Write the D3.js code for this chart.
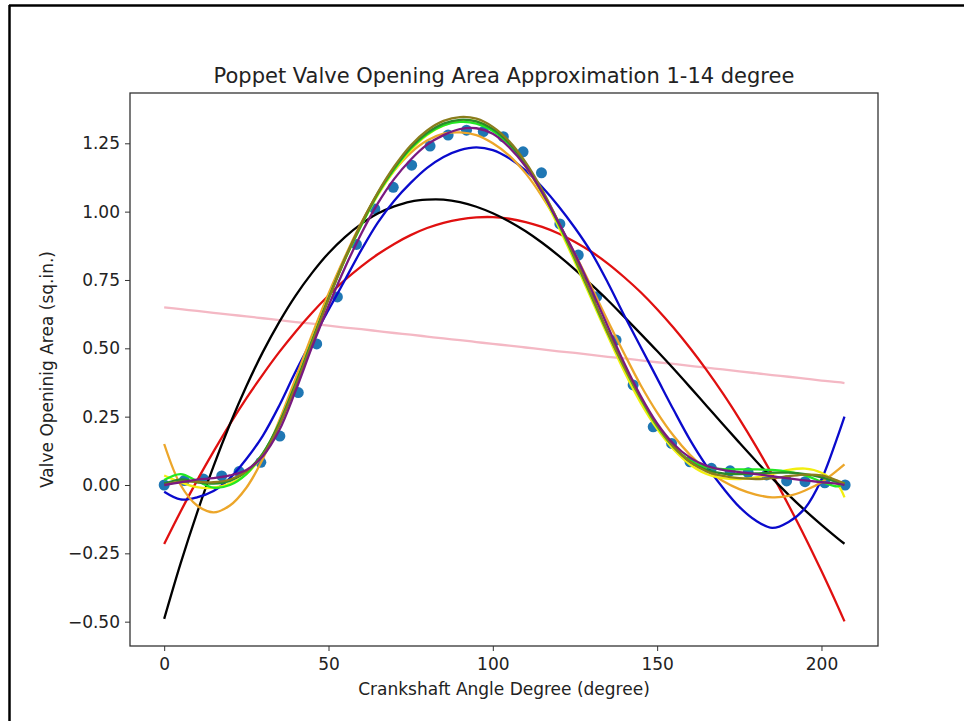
<!DOCTYPE html>
<html>
<head>
<meta charset="utf-8">
<script src="https://cdnjs.cloudflare.com/ajax/libs/d3/7.8.5/d3.min.js"></script>
<style>
  body { margin: 0; background: #fff; }
  text { font-family: "DejaVu Sans", sans-serif; fill: #222; }
  .axis path, .axis line { stroke: #333; }
</style>
</head>
<body>
<div class="chart"></div>
<script>
const width = 964;
const height = 721;

// measured points (crank angle, opening area)
const angle = [0, 6.1, 11.9, 17.5, 22.8, 29.4, 35.2, 40.8, 46.4, 52.7, 58.5, 64.1, 69.7, 75.3, 80.9, 86.4, 92.0, 97.1, 103.2,
  109.2, 114.8, 120.4, 126.0, 131.6, 137.5, 142.7, 148.8, 154.4, 160.0, 166.5, 172.2, 177.7, 183.3, 189.4, 195.0, 201.0, 207.2];
const area = [0, 0.016, 0.022, 0.033, 0.049, 0.083, 0.179, 0.338, 0.516, 0.688, 0.88, 1.01, 1.089, 1.17, 1.24, 1.28, 1.298,
  1.293, 1.274, 1.219, 1.142, 0.955, 0.841, 0.689, 0.53, 0.366, 0.213, 0.152, 0.085, 0.061, 0.052, 0.045, 0.037, 0.015, 0.012, 0.008, 0];

// x positions where the fitted curves were read
const fitX = [0, 5, 10, 15, 20, 25, 30, 35, 40, 45, 50, 55, 60, 65, 70, 75, 80, 85, 90, 95, 100,
  105, 110, 115, 120, 125, 130, 135, 140, 145, 150, 155, 160, 165, 170, 175, 180, 185, 190, 195, 200, 205, 207];

const fitPink = [0.650, 0.643, 0.637, 0.630, 0.623, 0.617, 0.610, 0.603, 0.596, 0.590, 0.583, 0.576, 0.570, 0.563, 0.556,
  0.550, 0.543, 0.536, 0.530, 0.523, 0.516, 0.510, 0.503, 0.496, 0.489, 0.483, 0.476, 0.469, 0.463, 0.456, 0.449,
  0.443, 0.436, 0.429, 0.423, 0.416, 0.409, 0.402, 0.396, 0.389, 0.382, 0.376, 0.373];
const fitRed = [-0.216, -0.097, 0.016, 0.122, 0.223, 0.317, 0.404, 0.486, 0.561, 0.630, 0.693, 0.750, 0.800, 0.844, 0.882,
  0.914, 0.940, 0.959, 0.972, 0.979, 0.980, 0.974, 0.962, 0.944, 0.920, 0.889, 0.853, 0.810, 0.760, 0.705, 0.643,
  0.575, 0.501, 0.421, 0.335, 0.242, 0.143, 0.038, -0.074, -0.191, -0.315, -0.445, -0.499];
const fitBlack = [-0.49, -0.287, -0.102, 0.068, 0.222, 0.361, 0.486, 0.596, 0.693, 0.776, 0.848, 0.907, 0.955, 0.993, 1.019,
  1.037, 1.044, 1.044, 1.035, 1.018, 0.994, 0.964, 0.928, 0.886, 0.839, 0.788, 0.733, 0.676, 0.615, 0.553, 0.49,
  0.425, 0.358, 0.29, 0.222, 0.155, 0.089, 0.025, -0.036, -0.093, -0.146, -0.196, -0.215];
const fitBlue = [-0.025, -0.053, -0.045, -0.022, 0.025, 0.095, 0.18, 0.29, 0.415, 0.53, 0.64, 0.75, 0.86, 0.96, 1.04,
  1.105, 1.16, 1.2, 1.225, 1.235, 1.225, 1.195, 1.15, 1.09, 1.02, 0.94, 0.85, 0.74, 0.62, 0.505, 0.39,
  0.275, 0.165, 0.07, -0.01, -0.08, -0.13, -0.157, -0.135, -0.085, 0.02, 0.18, 0.25];
const fitOrange = [0.15, 0.0, -0.075, -0.10, -0.075, -0.01, 0.095, 0.235, 0.39, 0.55, 0.7, 0.835, 0.96, 1.065, 1.15,
  1.215, 1.26, 1.285, 1.29, 1.28, 1.25, 1.205, 1.14, 1.055, 0.955, 0.845, 0.725, 0.6, 0.48, 0.365, 0.265,
  0.18, 0.11, 0.055, 0.015, -0.015, -0.035, -0.045, -0.04, -0.02, 0.01, 0.055, 0.075];
const fitYellow = [0.035, 0.01, -0.008, -0.01, 0.005, 0.04, 0.11, 0.22, 0.37, 0.53, 0.685, 0.825, 0.95, 1.06, 1.15,
  1.225, 1.28, 1.315, 1.333, 1.33, 1.3, 1.245, 1.165, 1.065, 0.945, 0.815, 0.68, 0.545, 0.415, 0.3, 0.205,
  0.13, 0.075, 0.04, 0.025, 0.022, 0.028, 0.04, 0.055, 0.06, 0.045, 0.0, -0.045];
const fitLime = [0.018, 0.04, 0.015, -0.01, 0.0, 0.04, 0.115, 0.225, 0.37, 0.525, 0.68, 0.825, 0.95, 1.065, 1.155,
  1.23, 1.283, 1.315, 1.328, 1.322, 1.295, 1.245, 1.17, 1.07, 0.955, 0.825, 0.69, 0.555, 0.43, 0.315, 0.215,
  0.14, 0.09, 0.065, 0.058, 0.057, 0.057, 0.055, 0.048, 0.035, 0.012, -0.005, 0.01];
const fitGreen = [0.005, 0.02, 0.01, 0.005, 0.015, 0.05, 0.115, 0.225, 0.37, 0.527, 0.683, 0.828, 0.955, 1.068, 1.16,
  1.235, 1.288, 1.322, 1.336, 1.33, 1.302, 1.25, 1.175, 1.075, 0.96, 0.83, 0.695, 0.56, 0.435, 0.32, 0.22,
  0.14, 0.085, 0.055, 0.042, 0.04, 0.042, 0.045, 0.045, 0.04, 0.028, 0.01, 0.005];
const fitOlive = [0.0, 0.012, 0.012, 0.01, 0.02, 0.05, 0.11, 0.218, 0.362, 0.52, 0.68, 0.827, 0.957, 1.07, 1.165,
  1.242, 1.297, 1.332, 1.346, 1.34, 1.31, 1.257, 1.18, 1.08, 0.962, 0.83, 0.695, 0.558, 0.432, 0.318, 0.218,
  0.14, 0.085, 0.05, 0.033, 0.025, 0.022, 0.025, 0.032, 0.038, 0.035, 0.015, 0.005];
const fitPurple = [0.0, 0.01, 0.02, 0.025, 0.035, 0.055, 0.105, 0.2, 0.345, 0.505, 0.655, 0.795, 0.92, 1.03, 1.12,
  1.19, 1.245, 1.28, 1.302, 1.305, 1.285, 1.235, 1.165, 1.07, 0.96, 0.845, 0.715, 0.58, 0.445, 0.325, 0.225,
  0.15, 0.1, 0.07, 0.055, 0.047, 0.04, 0.032, 0.024, 0.017, 0.01, 0.004, 0.0];

const fitColors = ["#f4b8c4", "#e01010", "#000000", "#0a0acc", "#eca62a", "#f2ee10", "#22e822", "#2a8a2a", "#8a7d1c", "#7a1a80"];
const fits = [fitPink, fitRed, fitBlack, fitBlue, fitOrange, fitYellow, fitLime, fitGreen, fitOlive, fitPurple];

const xTicks = [0, 50, 100, 150, 200];
const yTicks = [-0.5, -0.25, 0, 0.25, 0.5, 0.75, 1.0, 1.25];

const render = () => {
  const margin = { top: 93, right: 86, bottom: 75, left: 130 };
  const innerWidth = width - margin.left - margin.right;
  const innerHeight = height - margin.top - margin.bottom;

  const svg = d3.select(".chart")
    .append("svg")
    .attr("width", width)
    .attr("height", height);

  // outer frame of the screenshot (top and left only)
  svg.append("line").attr("x1", 9).attr("x2", width).attr("y1", 5.5).attr("y2", 5.5)
    .attr("stroke", "#000").attr("stroke-width", 2.5);
  svg.append("line").attr("x1", 9.5).attr("x2", 9.5).attr("y1", 5).attr("y2", height)
    .attr("stroke", "#000").attr("stroke-width", 2.5);

  const g = svg.append("g")
    .attr("transform", `translate(${margin.left},${margin.top})`);

  const x = d3.scaleLinear().domain([-10.4, 217.2]).range([0, innerWidth]);
  const y = d3.scaleLinear().domain([-0.589, 1.434]).range([innerHeight, 0]);

  const xAxis = d3.axisBottom(x).tickValues(xTicks).tickFormat(d3.format("d")).tickSizeInner(5).tickSizeOuter(0).tickPadding(7);
  const yAxis = d3.axisLeft(y).tickValues(yTicks).tickFormat(d3.format(".2f")).tickSizeInner(5).tickSizeOuter(0).tickPadding(5);

  const points = angle.map((a, i) => ({ x: a, y: area[i] }));
  g.selectAll(".dot")
    .data(points)
    .enter()
    .append("circle")
    .attr("class", "dot")
    .attr("r", 5.5)
    .attr("cx", d => x(d.x))
    .attr("cy", d => y(d.y))
    .style("fill", "#1f77b4");

  const line = d3.line()
    .x(d => x(d.x))
    .y(d => y(d.y))
    .curve(d3.curveCatmullRom);

  fits.forEach((vals, k) => {
    g.append("path")
      .datum(fitX.map((fx, i) => ({ x: fx, y: vals[i] })))
      .attr("fill", "none")
      .attr("stroke", fitColors[k])
      .attr("stroke-width", 2.3)
      .attr("stroke-linejoin", "round")
      .attr("d", line);
  });

  g.append("g")
    .attr("class", "x axis")
    .attr("transform", `translate(0,${innerHeight})`)
    .call(xAxis)
    .call(s => s.select(".domain").remove())
    .selectAll("text").style("font-size", "17px").style("font-family", "DejaVu Sans").attr("fill", "#222");

  g.append("g")
    .attr("class", "y axis")
    .call(yAxis)
    .call(s => s.select(".domain").remove())
    .selectAll("text").style("font-size", "17px").style("font-family", "DejaVu Sans").attr("fill", "#222");

  g.append("rect")
    .attr("width", innerWidth)
    .attr("height", innerHeight)
    .attr("fill", "none")
    .attr("stroke", "#333")
    .attr("stroke-width", 1.3);

  svg.append("text")
    .attr("x", margin.left + innerWidth / 2)
    .attr("y", 83)
    .style("text-anchor", "middle")
    .style("font-size", "21px")
    .text("Poppet Valve Opening Area Approximation 1-14 degree");

  svg.append("text")
    .attr("x", margin.left + innerWidth / 2)
    .attr("y", 695)
    .style("text-anchor", "middle")
    .style("font-size", "17px")
    .text("Crankshaft Angle Degree (degree)");

  svg.append("text")
    .attr("transform", `translate(53,${margin.top + innerHeight / 2}) rotate(-90)`)
    .style("text-anchor", "middle")
    .style("font-size", "17px")
    .text("Valve Openinig Area (sq.in.)");
};

document.addEventListener("DOMContentLoaded", render);
</script>
</body>
</html>
